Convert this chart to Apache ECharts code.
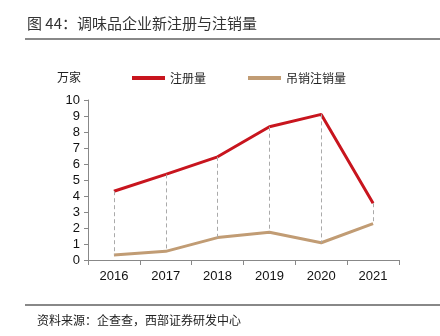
<!DOCTYPE html>
<html><head><meta charset="utf-8">
<script src="https://cdn.jsdelivr.net/npm/echarts@6/dist/echarts.min.js"></script>
<style>html,body{margin:0;padding:0;background:#fff}#c{width:440px;height:336px}</style>
</head><body><div id="c"></div>
<script>
var categories = ['2016','2017','2018','2019','2020','2021'];
var registered = [4.3, 5.35, 6.45, 8.33, 9.1, 3.55];
var cancelled = [0.31, 0.54, 1.4, 1.73, 1.08, 2.27];
var yTicks = [0,1,2,3,4,5,6,7,8,9,10];
var title = '图 44：调味品企业新注册与注销量';
var source = '资料来源：企查查，西部证券研发中心';
var unit = '万家';
var names = ['注册量','吊销注销量'];

var chart = echarts.init(document.getElementById('c'));
var cjk = '"Noto Sans CJK SC", sans-serif';
var latin = '"Liberation Sans", Arial, sans-serif';
var dropLines = categories.map(function(c,i){ return [{coord:[c, registered[i]]},{coord:[c, cancelled[i]]}]; });
chart.setOption({
  animation:false,
  graphic:[
    {type:'text', left:27, top:16, style:{text:title, font:'15px '+cjk, fill:'#333'}},
    {type:'rect', shape:{x:25,y:38,width:415,height:2}, style:{fill:'#888'}},
    {type:'text', left:57, top:71, style:{text:unit, font:'12px '+cjk, fill:'#222'}},
    {type:'rect', shape:{x:25,y:304,width:415,height:2}, style:{fill:'#888'}},
    {type:'text', left:37, top:314, style:{text:source, font:'12px '+cjk, fill:'#222'}}
  ],
  legend:{top:72, left:132, padding:0, itemWidth:33, itemHeight:4, itemGap:42, icon:'rect',
    textStyle:{fontFamily:cjk, fontSize:12, color:'#222'}, data:names},
  grid:{left:88, right:41, top:100, bottom:76},
  xAxis:{type:'category', data:categories, boundaryGap:true,
    axisLine:{lineStyle:{color:'#888'}},
    axisTick:{show:true, length:5, lineStyle:{color:'#888'}},
    axisLabel:{fontFamily:latin, fontSize:13, color:'#111', margin:10}},
  yAxis:{type:'value', min:0, max:10, interval:1,
    axisLine:{show:true, lineStyle:{color:'#888'}},
    axisTick:{show:true, length:4, lineStyle:{color:'#888'}},
    splitLine:{show:false},
    axisLabel:{fontFamily:latin, fontSize:13, color:'#111', margin:8}},
  series:[
    {name:names[0], type:'line', data:registered, symbol:'none', lineStyle:{color:'#C8151E', width:3}, itemStyle:{color:'#C8151E'},
     markLine:{silent:true, symbol:'none', label:{show:false}, lineStyle:{color:'#aaa', type:[4,3], width:1}, data:dropLines}},
    {name:names[1], type:'line', data:cancelled, symbol:'none', lineStyle:{color:'#C19C74', width:3}, itemStyle:{color:'#C19C74'}}
  ]
});
</script></body></html>
